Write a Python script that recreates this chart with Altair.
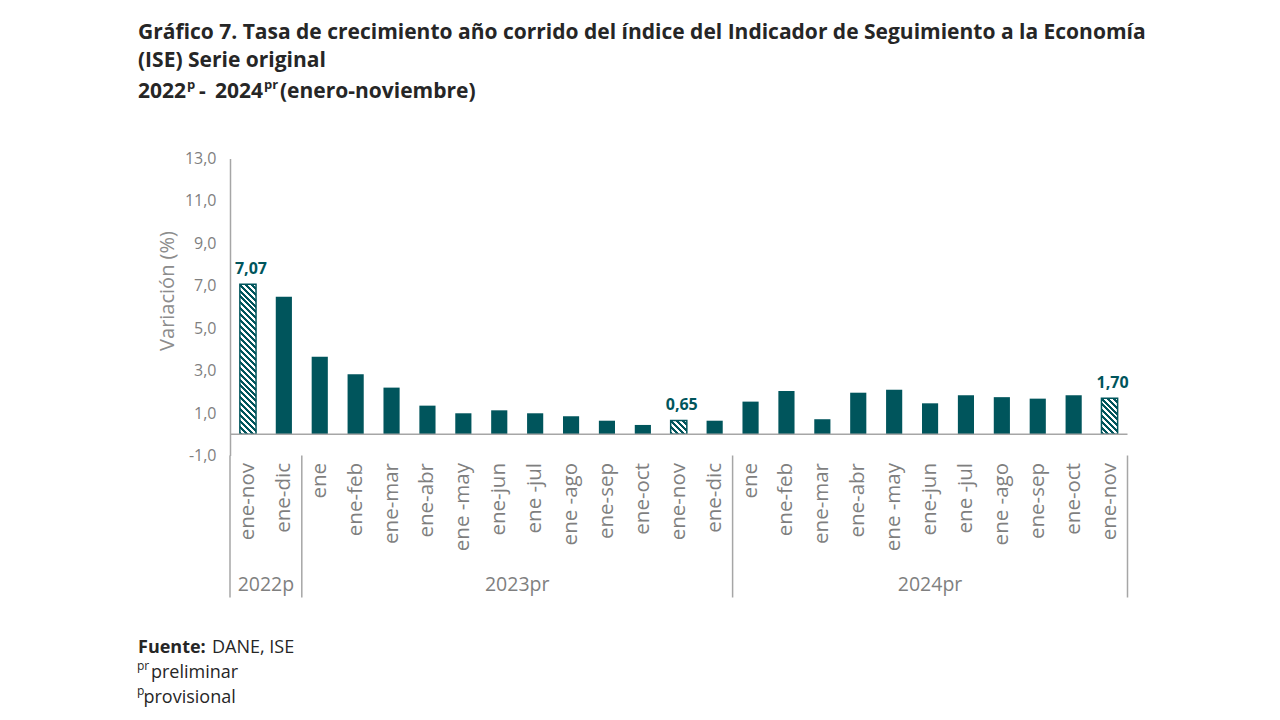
import altair as alt
import pandas as pd

# ---------------- data ----------------
months_2022 = ["ene-nov", "ene-dic"]
months_2023 = ["ene", "ene-feb", "ene-mar", "ene-abr", "ene -may", "ene-jun",
               "ene -jul", "ene -ago", "ene-sep", "ene-oct", "ene-nov", "ene-dic"]
months_2024 = ["ene", "ene-feb", "ene-mar", "ene-abr", "ene -may", "ene-jun",
               "ene -jul", "ene -ago", "ene-sep", "ene-oct", "ene-nov"]

values_2022 = [7.07, 6.48]
values_2023 = [3.66, 2.83, 2.20, 1.35, 0.99, 1.13, 0.99, 0.85, 0.64, 0.44, 0.65, 0.64]
values_2024 = [1.54, 2.04, 0.71, 1.96, 2.10, 1.46, 1.84, 1.75, 1.68, 1.84, 1.70]

group_names = ["2022p", "2023pr", "2024pr"]
group_months = [months_2022, months_2023, months_2024]
group_values = [values_2022, values_2023, values_2024]

# bars shown hatched and labelled (group, month)
highlight = [("2022p", "ene-nov"), ("2023pr", "ene-nov"), ("2024pr", "ene-nov")]

y_ticks = [-1, 1, 3, 5, 7, 9, 11, 13]

title_line1 = "Gráfico 7. Tasa de crecimiento año corrido del índice del Indicador de Seguimiento a la Economía"
title_line2 = "(ISE) Serie original"
# third title line: (text, is_superscript)
title_line3 = [("2022", False), ("p", True), ("-", False), ("2024", False),
               ("pr", True), ("(enero-noviembre)", False)]
source_bold = "Fuente:"
source_text = "DANE, ISE"
notes = [("pr", "preliminar"), ("p", "provisional")]

# ---------------- build tables ----------------
rows = []
for g, ms, vs in zip(group_names, group_months, group_values):
    for m, v in zip(ms, vs):
        rows.append({"key": f"{g}|{m}", "group": g, "month": m, "value": v,
                     "hl": (g, m) in highlight})
df = pd.DataFrame(rows)
keys = list(df["key"])

starts, ends, pos = [], [], 0
for ms in group_months:
    starts.append(pos)
    pos += len(ms)
    ends.append(pos)
n_bars = pos
groups_df = pd.DataFrame({"name": group_names, "start": starts, "end": ends})
bounds_df = pd.DataFrame({"b": starts + [ends[-1]]})

# ---------------- styling ----------------
W = 897.5
H = 297
TEAL = "#00555c"
GRAY = "#7f7f7f"
AXIS_GRAY = "#a6a6a6"
FONT = "Open Sans"
P_INNER = 0.55
bar_w = W / n_bars * (1 - P_INNER)
ppu = H / (y_ticks[-1] - y_ticks[0])


def hatch(value, period=6.0):
    h = value * ppu
    w = bar_w
    k = (w + h) / (w * w + h * h)
    n = max(1, round((w + h) / period))
    stops = []
    for i in range(n):
        a, b, c = i / n, (i + 0.5) / n, (i + 1) / n
        stops += [alt.GradientStop(offset=a, color=TEAL),
                  alt.GradientStop(offset=b, color=TEAL),
                  alt.GradientStop(offset=b, color="white"),
                  alt.GradientStop(offset=c, color="white")]
    return alt.LinearGradient(gradient="linear", x1=0, y1=1, x2=k * w, y2=1 - k * h,
                              stops=stops)


x_enc = alt.X(
    "key:N", sort=keys,
    scale=alt.Scale(paddingInner=P_INNER, paddingOuter=P_INNER / 2),
    axis=alt.Axis(title=None, labelAngle=-90, labelExpr="split(datum.label, '|')[1]",
                  domain=False, ticks=False, labelPadding=7, labelFontSize=20.5,
                  labelColor=GRAY, labelFont=FONT, labelLimit=300),
)
y_enc = alt.Y(
    "value:Q",
    scale=alt.Scale(domain=[y_ticks[0], y_ticks[-1]], nice=False, zero=False),
    axis=alt.Axis(values=y_ticks, grid=False, ticks=False,
                  labelExpr="replace(replace(format(datum.value, '.1f'), '.', ','), '\u2212', '-')",
                  labelFontSize=16, labelColor=GRAY, labelFont=FONT, labelPadding=14,
                  domainColor=AXIS_GRAY, domainWidth=1.5,
                  title="Variación (%)", titleFontSize=20, titleFontWeight="normal",
                  titleColor="#8c8c8c", titleFont=FONT, titleX=-53, titleY=132),
)

base = alt.Chart(df)

bars = base.transform_filter("!datum.hl").mark_bar(color=TEAL).encode(x=x_enc, y=y_enc)

hatched = []
for g, m in highlight:
    v = float(df[(df.group == g) & (df.month == m)]["value"].iloc[0])
    k = f"{g}|{m}"
    hatched.append(
        base.transform_filter(alt.datum.key == k)
        .mark_bar(fill=hatch(v), stroke=TEAL, strokeWidth=1.5)
        .encode(x=alt.X("key:N", sort=keys), y=alt.Y("value:Q"))
    )

value_labels = (
    base.transform_filter("datum.hl")
    .transform_calculate(lbl="replace(format(datum.value, '.2f'), '.', ',')")
    .mark_text(color=TEAL, fontWeight="bold", fontSize=16, font=FONT, dy=-15, dx=3)
    .encode(x=alt.X("key:N", sort=keys), y=alt.Y("value:Q"), text="lbl:N")
)

zero_line = (
    alt.Chart(pd.DataFrame({"z": [0]}))
    .mark_rule(color=AXIS_GRAY, strokeWidth=1.5)
    .encode(y=alt.Y("z:Q"), x=alt.value(0), x2=alt.value(W))
)

idx_scale = alt.Scale(domain=[0, n_bars], nice=False, zero=False)

separators = (
    alt.Chart(bounds_df)
    .mark_rule(color=AXIS_GRAY, strokeWidth=1.5)
    .encode(x=alt.X("b:Q", scale=idx_scale, axis=None),
            y=alt.value(H), y2=alt.value(H + 142))
)

group_labels = (
    alt.Chart(groups_df)
    .transform_calculate(mid="(datum.start + datum.end) / 2")
    .mark_text(fontSize=19.5, color=GRAY, font=FONT, baseline="middle")
    .encode(x=alt.X("mid:Q", scale=idx_scale, axis=None),
            y=alt.value(H + 129), text="name:N")
)


def text_layer(txt, x, y, size, weight="normal", color="#262626"):
    return (
        alt.Chart(pd.DataFrame({"t": [txt]}))
        .mark_text(align="left", baseline="middle", fontSize=size, fontWeight=weight,
                   color=color, font=FONT)
        .encode(x=alt.value(x), y=alt.value(y), text="t:N")
    )


title_x3 = [-92, -43, -31, -15, 34, 50]
texts = [
    text_layer(title_line1, -92, -126, 21, "bold"),
    text_layer(title_line2, -92, -98, 21, "bold"),
]
for (t, sup), x in zip(title_line3, title_x3):
    if sup:
        texts.append(text_layer(t, x, -74, 13, "bold"))
    else:
        texts.append(text_layer(t, x, -67, 21, "bold"))

texts += [
    text_layer(source_bold, -92, 489, 18, "bold"),
    text_layer(source_text, -18, 489, 18),
]
note_x = [(-93, -79), (-93, -86.5)]
for (sup, word), (xs, xw), y in zip(notes, note_x, [514, 539]):
    texts.append(text_layer(sup, xs, y - 7, 12))
    texts.append(text_layer(word, xw, y, 18))

main = alt.layer(bars, *hatched, value_labels, zero_line)
chart = (
    alt.layer(main, separators, group_labels, *texts)
    .resolve_scale(x="independent")
    .properties(width=W, height=H,
                autosize=alt.AutoSizeParams(type="none"),
                padding={"left": 222, "top": 150.5, "right": 140, "bottom": 252},
                background="white")
    .configure_view(stroke=None)
)

chart.save("out.html", embed_options={"renderer": "svg", "actions": False})
